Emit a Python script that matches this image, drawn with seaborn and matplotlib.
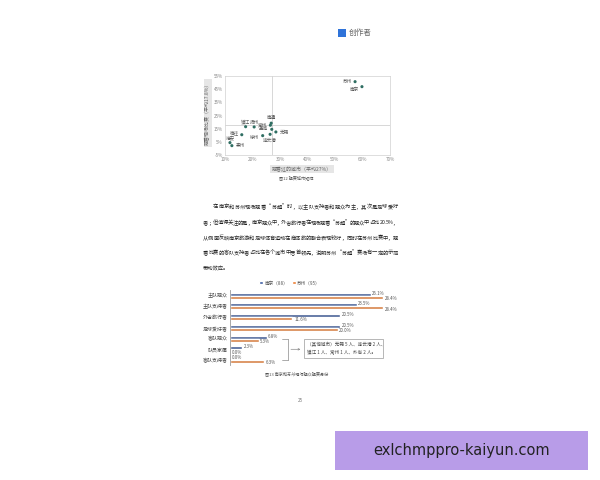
import matplotlib
matplotlib.use("Agg")
import matplotlib.pyplot as plt
import seaborn as sns
import pandas as pd
from matplotlib.patches import Rectangle
from matplotlib.lines import Line2D

sns.set_theme(style="white")
plt.rcParams['font.family'] = ['Noto Sans CJK SC', 'DejaVu Sans']

# ---------------- data ----------------
cities = ['苏州', '南京', '南通', '常州', '镇江', '扬州', '盐城', '无锡',
          '徐州', '连云港', '宿迁', '淮安', '泰州']
watch_ratio = [57.3, 59.8, 26.8, 26.5, 17.5, 20.6, 27.0, 28.5,
               23.7, 26.4, 16.1, 11.8, 12.5]
live_ratio = [50.7, 46.9, 19.2, 17.6, 16.5, 16.3, 14.5, 12.5,
              9.7, 10.7, 10.4, 4.4, 2.1]
mean_watch = 27.0
mean_live = 17.8
x_ticks = [10, 20, 30, 40, 50, 60, 70]
y_ticks = [-5, 5, 15, 25, 35, 45, 55]

identity = ['主队观众', '主队支持者', '外省旅行者', '足球爱好者',
            '客队观众', '队员家属', '客队支持者']
nanjing = [26.1, 23.5, 20.5, 20.5, 6.8, 2.3, 0.0]
suzhou = [28.4, 28.4, 11.6, 20.0, 5.3, 0.0, 6.3]
series = ['南京（88）', '苏州（95）']

paragraph_lines = [
    '在南京和苏州现场观看“苏超”时，以主队支持者和观众为主，其次是足球爱好',
    '者；但值得关注的是，南京观众中，外省旅行者在现场观看“苏超”的观众中占比 20.5%，',
    '从侧面反映南京旅游和足球体育运动在商体旅的融合表现较好，同时在苏州比赛中，观',
    '看比赛的客队支持者占比在各个城市中居首领先，说明苏州“苏超”赛场有一定的示范',
    '带动效应。',
]
note_lines = ['（其他城市）无锡 5 人、连云港 2 人、', '镇江 1 人、常州 1 人、外省 2 人。']

# ---------------- layout helpers ----------------
W, H = 600, 480
fig = plt.figure(figsize=(6, 4.8), dpi=100)
fig.patch.set_facecolor('white')


def fx(x):
    return x / W


def fy(y):
    return 1 - y / H


def box(l, t, r, b):
    return [fx(l), fy(b), (r - l) / W, (b - t) / H]


# ---------------- scatter chart ----------------
ax1 = fig.add_axes(box(225, 76, 390, 155))
df1 = pd.DataFrame({'city': cities, 'x': watch_ratio, 'y': live_ratio})
sns.scatterplot(data=df1, x='x', y='y', ax=ax1, color='#2f6e62', s=5,
                edgecolor='none', legend=False, zorder=3)
ax1.set_xlim(10, 70)
ax1.set_ylim(-5, 55)
ax1.set_xticks(x_ticks)
ax1.set_xticklabels([f'{t}%' for t in x_ticks])
ax1.set_yticks(y_ticks)
ax1.set_yticklabels([f'{t}%' for t in y_ticks])
ax1.tick_params(axis='both', length=0, labelsize=3.3, labelcolor='#8a8a8a', pad=1.5)
ax1.set_xlabel('')
ax1.set_ylabel('')
for s in ax1.spines.values():
    s.set_color('#d0d0d0')
    s.set_linewidth(0.5)
ax1.axvline(mean_watch, color='#c8c8c8', lw=0.5, zorder=1)
ax1.axhline(mean_live, color='#c8c8c8', lw=0.5, zorder=1)

offsets = {
    '苏州': (-2, 0.5, 'right'), '南京': (-2, -2, 'right'), '南通': (0, 4, 'center'),
    '常州': (-2.5, 0.5, 'right'), '镇江': (0, 3.5, 'center'), '扬州': (0, 3.5, 'center'),
    '盐城': (-2.5, 0.5, 'right'), '无锡': (2.5, 0, 'left'), '徐州': (-2.5, -1.5, 'right'),
    '连云港': (0, -4, 'center'), '宿迁': (-2, 0.5, 'right'), '淮安': (0, 3, 'center'),
    '泰州': (2.5, 0, 'left'),
}
for c, xv, yv in zip(cities, watch_ratio, live_ratio):
    dx, dy, ha = offsets[c]
    ax1.annotate(c, (xv, yv), xytext=(dx, dy), textcoords='offset points',
                 ha=ha, va='center', fontsize=3.3, color='#555555')

fig.text(fx(302), fy(169), '观看过的城市（平均27%）', ha='center', va='center',
         fontsize=3.6, color='#666666',
         bbox=dict(boxstyle='square,pad=0.3', fc='#e6e6e6', ec='none'))
fig.text(fx(208), fy(113), '观看现场比赛（平均17.8%）', ha='center', va='center',
         rotation=90, fontsize=3.6, color='#666666',
         bbox=dict(boxstyle='square,pad=0.3', fc='#e6e6e6', ec='none'))
fig.text(fx(296), fy(178), '图12 观赛城市矩阵', ha='center', va='center',
         fontsize=3.0, color='#555555')

# ---------------- logo ----------------
fig.patches.append(Rectangle((fx(338), fy(37)), 8 / W, 8 / H, transform=fig.transFigure,
                             fc='#2f73d9', ec='none'))
fig.text(fx(349), fy(33), '创作者', ha='left', va='center', fontsize=5.5, color='#666666')

# ---------------- paragraph (justified) ----------------
renderer = fig.canvas.get_renderer()
para_fs = 3.8
para_y = [207, 223, 238, 253, 269]
x_right = 398
for i, (line, yy) in enumerate(zip(paragraph_lines, para_y)):
    x0 = 213 if i == 0 else 203
    if i == len(paragraph_lines) - 1:
        fig.text(fx(x0), fy(yy), line, ha='left', va='center',
                 fontsize=para_fs, color='#222222')
        continue
    widths = []
    for ch in line:
        t = fig.text(0, 0, ch, fontsize=para_fs)
        widths.append(t.get_window_extent(renderer).width)
        t.remove()
    gap = (x_right - x0 - sum(widths)) / (len(line) - 1)
    xc = x0
    for ch, w in zip(line, widths):
        fig.text(fx(xc), fy(yy), ch, ha='left', va='center',
                 fontsize=para_fs, color='#222222')
        xc += w + gap

# ---------------- bar chart ----------------
blue, orange = '#3b5ba3', '#ed7d31'
ax2 = fig.add_axes(box(230, 290.3, 397, 365.4))
df2 = pd.DataFrame({
    'identity': identity * 2,
    'value': nanjing + suzhou,
    'city': [series[0]] * len(identity) + [series[1]] * len(identity),
})
sns.barplot(data=df2, y='identity', x='value', hue='city', orient='h',
            palette=[blue, orange], width=0.55, ax=ax2, order=identity,
            hue_order=series, errorbar=None)
ax2.set_xlim(0, 31)
ax2.set_xlabel('')
ax2.set_ylabel('')
ax2.set_xticks([])
ax2.tick_params(axis='y', length=0, labelsize=3.6, labelcolor='#444444', pad=1.5)
for k in ['top', 'right', 'bottom']:
    ax2.spines[k].set_visible(False)
ax2.spines['left'].set_color('#9a9a9a')
ax2.spines['left'].set_linewidth(0.6)

for ci, cont in enumerate(ax2.containers):
    for bar in cont:
        w = bar.get_width()
        yc = bar.get_y() + bar.get_height() / 2
        ax2.text(w + 0.3, yc + (-0.1 if ci == 0 else 0.12), f'{w:.1f}%',
                 ha='left', va='center', fontsize=3.2, color='#555555')

leg = ax2.get_legend()
if leg is not None:
    leg.remove()
handles = [Rectangle((0, 0), 1, 1, fc=blue), Rectangle((0, 0), 1, 1, fc=orange)]
fig.legend(handles, series, loc='center', bbox_to_anchor=(fx(290), fy(283)), ncol=2,
           frameon=False, fontsize=3.3, handlelength=0.8, handleheight=0.6,
           handletextpad=0.3, columnspacing=0.8, labelcolor='#555555')

# bracket and note box
lc = '#8a8a8a'
for xs, ys in [([9.6, 10.8], [4, 4]), ([10.8, 10.8], [4, 6]), ([9.6, 10.8], [6, 6])]:
    ax2.add_line(Line2D(xs, ys, color=lc, lw=0.5, clip_on=False))
ax2.annotate('', xy=(13.6, 5), xytext=(10.8, 5),
             arrowprops=dict(arrowstyle='->', color=lc, lw=0.5, mutation_scale=3),
             annotation_clip=False)
fig.patches.append(Rectangle((fx(304), fy(358)), 79 / W, 19 / H, transform=fig.transFigure,
                             fc='white', ec='#9a9a9a', lw=0.5))
fig.text(fx(307), fy(345), note_lines[0], ha='left', va='center', fontsize=3.3, color='#444444')
fig.text(fx(307), fy(353), note_lines[1], ha='left', va='center', fontsize=3.3, color='#444444')

fig.text(fx(297), fy(374), '图13 南京和苏州现场观众观赛身份', ha='center', va='center',
         fontsize=3.0, color='#555555')
fig.text(fx(300), fy(400), '25', ha='center', va='center', fontsize=3.3, color='#777777')

# ---------------- watermark ----------------
fig.patches.append(Rectangle((fx(335), fy(470)), 253 / W, 39 / H, transform=fig.transFigure,
                             fc='#b89ce8', ec='none'))
fig.text(fx(462), fy(451), 'exlchmppro-kaiyun.com', ha='center', va='center',
         fontsize=10.5, color='#222222', family=['DejaVu Sans'])

fig.savefig('out.png', dpi=100, facecolor='white')
